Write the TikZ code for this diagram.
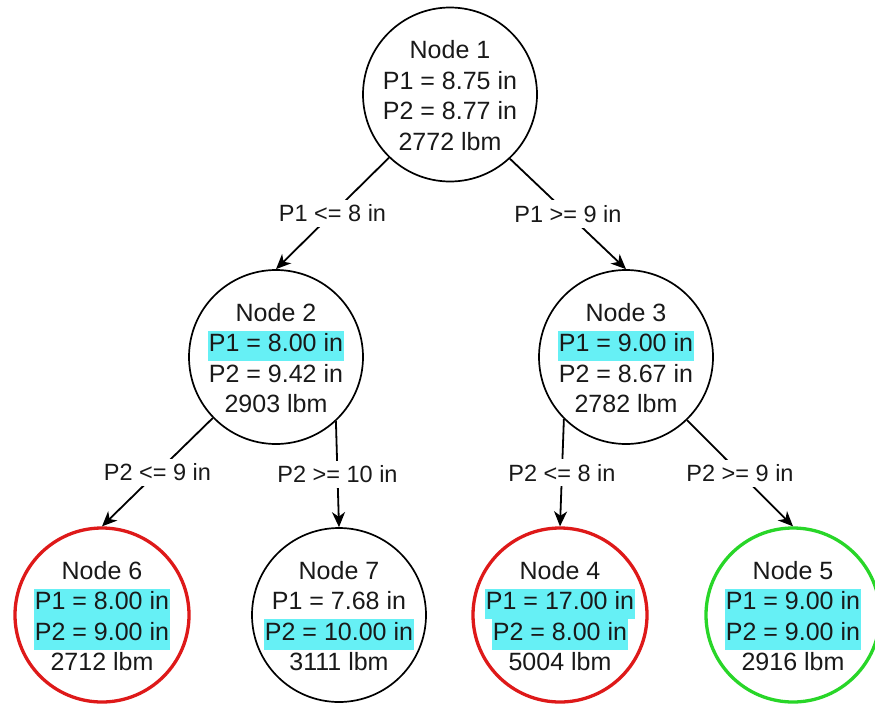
\documentclass[tikz,border=0pt]{standalone}
\usepackage{fontspec}
\setmainfont{Liberation Sans}
\usetikzlibrary{arrows.meta}
\definecolor{hlc}{RGB}{102,240,245}
\definecolor{redc}{RGB}{222,25,25}
\definecolor{greenc}{RGB}{40,214,40}
\newcommand{\hlbox}[1]{{\setlength{\fboxsep}{0pt}\colorbox{hlc}{\strut\kern1pt #1\kern1pt}}}
\begin{document}
\begin{tikzpicture}[x=1pt,y=-1pt,
  circ/.style={circle,draw=black,line width=1.7pt,minimum size=174pt,inner sep=0pt},
  redcirc/.style={circ,draw=redc,line width=3.3pt},
  greencirc/.style={circ,draw=greenc,line width=3.3pt},
  ntext/.style={align=center,inner sep=0pt,text=black!90,font=\fontsize{25}{30.5}\selectfont},
  lbl/.style={fill=white,inner xsep=2pt,inner ysep=5pt,text=black!90,font=\fontsize{23.5}{28}\selectfont},
  arr/.style={line width=1.8pt,-{Stealth[length=15pt,width=13pt,inset=4.5pt]}}]
\fill[white] (0,0) rectangle (875,704);
\useasboundingbox (0,0) rectangle (875,704);

% circles
\node[circ] (n1) at (450,94.5) {};
\node[circ] (n2) at (276,357) {};
\node[circ] (n3) at (626,357) {};
\node[redcirc] (n6) at (102,615) {};
\node[circ] (n7) at (339,615) {};
\node[redcirc] (n4) at (560,615) {};
\node[greencirc] (n5) at (793,615) {};

% texts
\node[ntext] (t1) at (450,98.5) {\strut Node 1\\\strut P1 = 8.75 in\\\strut P2 = 8.77 in\\\strut 2772 lbm};
\node[ntext] (t2) at (276,361) {\strut Node 2\\\hlbox{P1 = 8.00 in}\\\strut P2 = 9.42 in\\\strut 2903 lbm};
\node[ntext] (t3) at (626,361) {\strut Node 3\\\hlbox{P1 = 9.00 in}\\\strut P2 = 8.67 in\\\strut 2782 lbm};
\node[ntext] (t6) at (102,619) {\strut Node 6\\\hlbox{P1 = 8.00 in}\\\hlbox{P2 = 9.00 in}\\\strut 2712 lbm};
\node[ntext] (t7) at (339,619) {\strut Node 7\\\strut P1 = 7.68 in\\\hlbox{P2 = 10.00 in}\\\strut 3111 lbm};
\node[ntext] (t4) at (560,619) {\strut Node 4\\\hlbox{P1 = 17.00 in}\\\hlbox{P2 = 8.00 in}\\\strut 5004 lbm};
\node[ntext] (t5) at (793,619) {\strut Node 5\\\hlbox{P1 = 9.00 in}\\\hlbox{P2 = 9.00 in}\\\strut 2916 lbm};

% connectors
\draw[arr] (n1.226) -- node[lbl] {P1 <= 8 in} (n2.north);
\draw[arr] (n1.313) -- node[lbl] {P1 >= 9 in} (n3.north);
\draw[arr] (n2.224) -- node[lbl] {P2 <= 9 in} (n6.north);
\draw[arr] (n2.313) -- node[lbl] {P2 >= 10 in} (n7.north);
\draw[arr] (n3.225) -- node[lbl] {P2 <= 8 in} (n4.north);
\draw[arr] (n3.314) -- node[lbl] {P2 >= 9 in} (n5.north);
\end{tikzpicture}
\end{document}
